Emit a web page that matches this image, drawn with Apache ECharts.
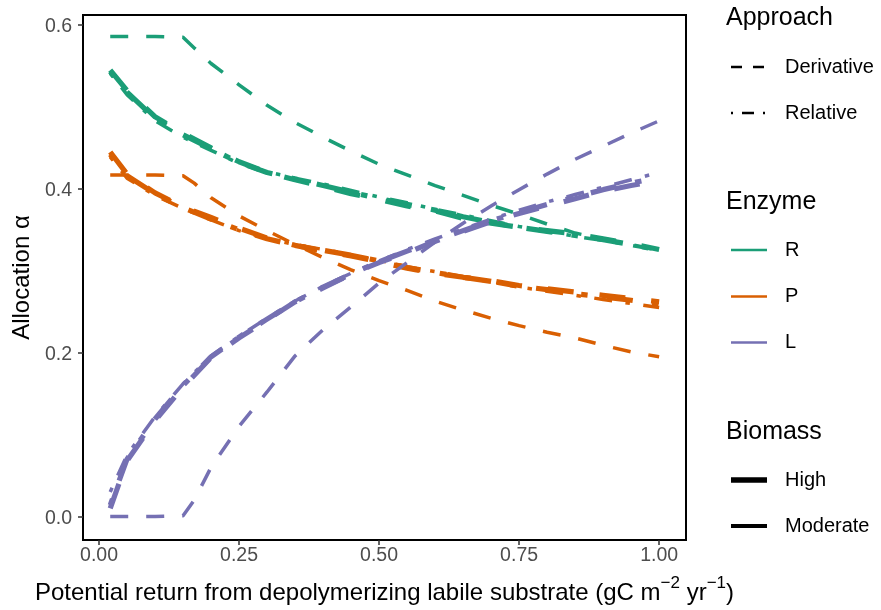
<!DOCTYPE html>
<html><head><meta charset="utf-8">
<script src="https://cdn.jsdelivr.net/npm/echarts@6/dist/echarts.min.js"></script>
<style>html,body{margin:0;padding:0;background:#fff}#c{width:881px;height:610px}</style>
</head><body><div id="c"></div>
<script>
// ---- data ----
const xBundle = [0.02,0.05,0.1,0.15,0.2,0.25,0.3,0.35,0.4,0.45,0.5,0.55,0.6,0.65,0.7,0.75,0.8,0.85,0.9,0.95,1.0];
const xModDeriv = [0.02,0.05,0.1,0.15,0.17,0.2,0.25,0.3,0.35,0.4,0.45,0.5,0.55,0.6,0.65,0.7,0.75,0.8,0.85,0.9,0.95,1.0];

// R enzyme
const R_highDeriv = [0.545,0.520,0.488,0.468,0.450,0.433,0.420,0.411,0.403,0.394,0.387,0.379,0.373,0.364,0.358,0.353,0.349,0.345,0.339,0.333,0.326];
const R_highRel   = [0.543,0.518,0.486,0.466,0.449,0.432,0.420,0.412,0.404,0.396,0.388,0.381,0.374,0.366,0.359,0.353,0.348,0.343,0.338,0.332,0.325];
const R_modRel    = [0.541,0.515,0.483,0.463,0.447,0.431,0.421,0.413,0.406,0.398,0.390,0.383,0.375,0.368,0.361,0.354,0.348,0.342,0.337,0.331,0.325];
const R_modDeriv  = [0.586,0.586,0.586,0.585,0.572,0.553,0.527,0.502,0.481,0.463,0.446,0.430,0.417,0.404,0.392,0.380,0.369,0.357,0.346,0.339,0.332,0.325];

// P enzyme
const P_highDeriv = [0.445,0.418,0.395,0.378,0.365,0.352,0.340,0.331,0.324,0.318,0.311,0.303,0.297,0.292,0.288,0.282,0.278,0.274,0.270,0.266,0.262];
const P_highRel   = [0.442,0.416,0.394,0.377,0.363,0.350,0.339,0.331,0.325,0.319,0.312,0.304,0.298,0.292,0.287,0.281,0.277,0.272,0.268,0.264,0.259];
const P_modRel    = [0.439,0.413,0.392,0.376,0.362,0.349,0.339,0.332,0.326,0.320,0.313,0.305,0.299,0.293,0.286,0.280,0.275,0.270,0.265,0.260,0.255];
const P_modDeriv  = [0.417,0.417,0.417,0.416,0.407,0.389,0.367,0.349,0.332,0.316,0.301,0.288,0.276,0.263,0.252,0.242,0.233,0.225,0.218,0.209,0.201,0.195];

// L enzyme
const L_highDeriv = [0.010,0.068,0.117,0.158,0.194,0.218,0.240,0.262,0.279,0.296,0.310,0.322,0.336,0.348,0.360,0.370,0.379,0.388,0.397,0.404,0.410];
const L_highRel   = [0.014,0.070,0.119,0.160,0.195,0.219,0.241,0.262,0.280,0.296,0.311,0.324,0.337,0.349,0.361,0.371,0.381,0.390,0.399,0.407,0.414];
const L_modRel    = [0.030,0.075,0.122,0.162,0.196,0.220,0.242,0.263,0.281,0.297,0.312,0.326,0.339,0.351,0.363,0.374,0.384,0.393,0.402,0.411,0.420];
const L_modDeriv  = [0.000,0.000,0.000,0.001,0.020,0.060,0.110,0.152,0.196,0.228,0.256,0.285,0.310,0.335,0.358,0.379,0.399,0.418,0.436,0.452,0.468,0.483];

const xTicks = [0, 0.25, 0.5, 0.75, 1.0];
const yTicks = [0, 0.2, 0.4, 0.6];

// ---- styling ----
const COL = {R:'#1B9E77', P:'#D95F02', L:'#7570B3'};
const THICK = 5.2, THIN = 3.5;
const dashThick = [26,26], dashThin = [18,18];
const dotdashThick = [6.5,19.5,26,19.5], dotdashThin = [4.5,13.5,18,13.5];

function pairs(xs, ys){ return xs.map((x,i)=>[x, ys[i]]); }
function mk(name, xs, ys, color, width, dash){
  return {name, type:'line', data:pairs(xs,ys), showSymbol:false, symbol:'none', silent:true,
    lineStyle:{color, width, type:dash, cap:'butt', join:'round'}, z:2, animation:false};
}
const series = [];
[['R',R_highDeriv,R_highRel,R_modRel,R_modDeriv],
 ['P',P_highDeriv,P_highRel,P_modRel,P_modDeriv],
 ['L',L_highDeriv,L_highRel,L_modRel,L_modDeriv]].forEach(([k,hd,hr,mr,md])=>{
  series.push(mk(k+' mod deriv', xModDeriv, md, COL[k], THIN, dashThin));
  series.push(mk(k+' high deriv', xBundle, hd, COL[k], THICK, dashThick));
  series.push(mk(k+' high rel', xBundle, hr, COL[k], THICK, dotdashThick));
  series.push(mk(k+' mod rel', xBundle, mr, COL[k], THIN, dotdashThin));
});

const FONT = '"Liberation Sans", Arial, Helvetica, sans-serif';
const legendG = [];
function lline(y,color,width,dash){ legendG.push({type:'line', shape:{x1:731,y1:y,x2:767,y2:y}, style:{stroke:color,lineWidth:width,lineDash:dash,lineCap:'butt'}}); }
function atxt(x,y,t,size){ legendG.push({type:'text', x:x, y:y, style:{text:t, font:`${size}px ${FONT}`, fill:'#000', verticalAlign:'middle', align:'left'}}); }
atxt(726,18,'Approach',25);
lline(67,'#000',2.5,[11,11]); atxt(785,67,'Derivative',20);
lline(113,'#000',2.5,[2,9,12,9]); atxt(785,113,'Relative',20);
atxt(726,202,'Enzyme',25);
lline(250,COL.R,2.7,null); atxt(785,250,'R',20);
lline(296.5,COL.P,2.7,null); atxt(785,296.5,'P',20);
lline(342.5,COL.L,2.7,null); atxt(785,342.5,'L',20);
atxt(726,432,'Biomass',25);
lline(480,'#000',5.5,null); atxt(785,480,'High',20);
lline(526,'#000',3.8,null); atxt(785,526,'Moderate',20);

const chart = echarts.init(document.getElementById('c'), null, {renderer:'canvas'});
chart.setOption({
  animation:false,
  backgroundColor:'#fff',
  grid:{left:83, right:195, top:15, bottom:70, show:true, borderColor:'#000', borderWidth:2, backgroundColor:'transparent', containLabel:false, outerBoundsMode:'none'},
  xAxis:{type:'value', min:-0.0286, max:1.048,
    axisLine:{show:false, onZero:false}, splitLine:{show:false},
    axisTick:{show:true, length:5, customValues:xTicks, lineStyle:{color:'#333', width:1.5}},
    axisLabel:{customValues:xTicks, formatter:v=>v.toFixed(2), color:'#4D4D4D', fontSize:19.5, fontFamily:FONT, margin:6},
    name:'{a|Potential return from depolymerizing labile substrate (gC m}{s|−2}{a| yr}{s|−1}{a|)}',
    nameLocation:'middle', nameGap:35,
    nameTextStyle:{rich:{a:{fontSize:24, fontFamily:FONT, color:'#000', lineHeight:30, verticalAlign:'bottom'}, s:{fontSize:17, fontFamily:FONT, color:'#000', lineHeight:30, verticalAlign:'top'}}}
  },
  yAxis:{type:'value', min:-0.0287, max:0.6122,
    axisLine:{show:false, onZero:false}, splitLine:{show:false},
    axisTick:{show:true, length:5, customValues:yTicks, lineStyle:{color:'#333', width:1.5}},
    axisLabel:{customValues:yTicks, formatter:v=>'{v|'+v.toFixed(1)+'}', margin:11,
      rich:{v:{color:'#4D4D4D', fontSize:19.5, fontFamily:FONT, padding:[4,0,0,0]}}},
    name:'Allocation α', nameLocation:'middle', nameGap:46,
    nameTextStyle:{fontSize:24, fontFamily:FONT, color:'#000'}
  },
  series,
  graphic:legendG
});
</script></body></html>
